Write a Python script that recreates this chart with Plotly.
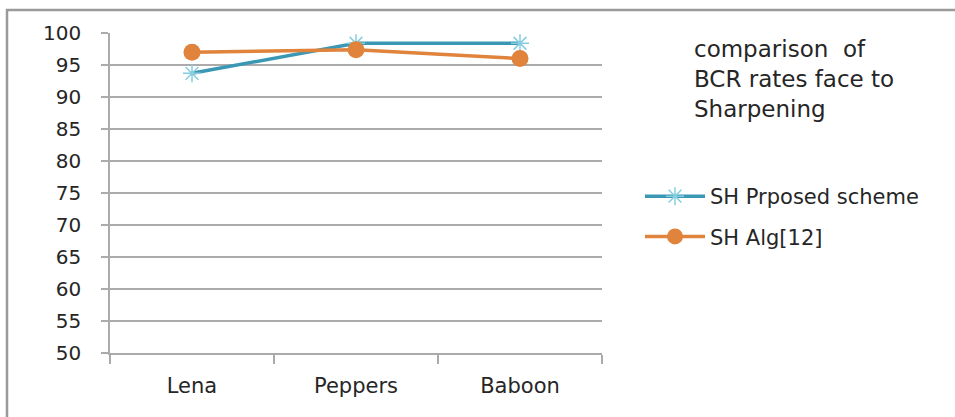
import plotly.graph_objects as go

# Test images and BCR rates (%) after sharpening
images = ["Lena", "Peppers", "Baboon"]
proposed_bcr = [93.7, 98.4, 98.4]
alg12_bcr = [97.0, 97.4, 96.0]
y_ticks = [50, 55, 60, 65, 70, 75, 80, 85, 90, 95, 100]

W, H = 955, 417
L, R, T, B = 110, 602, 33, 353  # plot area in pixels

BLUE = "#3b98b5"
ORANGE = "#e0833c"
GRID = "#ababab"
FONT = "DejaVu Sans"
TEXT = "#262626"

fig = go.Figure()
fig.add_trace(go.Scatter(
    x=images, y=proposed_bcr, name="SH Prposed scheme",
    legendgroup="proposed",
    mode="lines+markers",
    line=dict(color=BLUE, width=3.5),
    marker=dict(symbol="asterisk-open", size=15, color="#86cde0",
                line=dict(color="#86cde0", width=1.5)),
))
fig.add_trace(go.Scatter(
    x=images, y=alg12_bcr, name="SH Alg[12]",
    legendgroup="alg12",
    mode="lines+markers",
    line=dict(color=ORANGE, width=3.5),
    marker=dict(symbol="circle", size=17, color=ORANGE),
))

def px_x(p):
    return (p - L) / (R - L)

def px_y(p):
    return (B - p) / (B - T)

# outer chart frame
fig.add_shape(type="rect", xref="paper", yref="paper",
              x0=px_x(7), x1=px_x(990), y0=px_y(440), y1=px_y(10),
              line=dict(color="#9a9a9a", width=2.5), fillcolor="rgba(0,0,0,0)",
              layer="below")

fig.add_annotation(
    xref="paper", yref="paper", x=px_x(692), y=px_y(34),
    xanchor="left", yanchor="top", align="left", showarrow=False,
    text="comparison  of<br>BCR rates face to<br>Sharpening",
    font=dict(family=FONT, size=23, color=TEXT),
)

fig.update_layout(
    width=W, height=H,
    margin=dict(l=L, r=W - R, t=T, b=H - B),
    paper_bgcolor="white", plot_bgcolor="white",
    showlegend=True,
    legend=dict(
        x=px_x(640), y=px_y(176), xanchor="left", yanchor="top",
        traceorder="grouped", tracegroupgap=10,
        font=dict(family=FONT, size=21, color=TEXT),
        itemwidth=60, bgcolor="rgba(0,0,0,0)",
    ),
    xaxis=dict(
        type="category", range=[-0.5, 2.5],
        showgrid=False, showline=True, linecolor=GRID, linewidth=1.5,
        zeroline=False,
        ticks="outside", tickson="boundaries", ticklen=9, tickcolor=GRID,
        tickwidth=1.5, ticklabelstandoff=13,
        tickfont=dict(family=FONT, size=21, color=TEXT),
    ),
    yaxis=dict(
        range=[50, 100], tickvals=y_ticks, showgrid=True, gridcolor=GRID,
        gridwidth=1.5, showline=True, linecolor=GRID, linewidth=1.5,
        zeroline=False, ticks="outside", ticklen=7, tickcolor=GRID,
        tickwidth=1.5, ticklabelstandoff=16,
        tickfont=dict(family=FONT, size=20, color=TEXT),
    ),
)

fig.write_html("out.html")
